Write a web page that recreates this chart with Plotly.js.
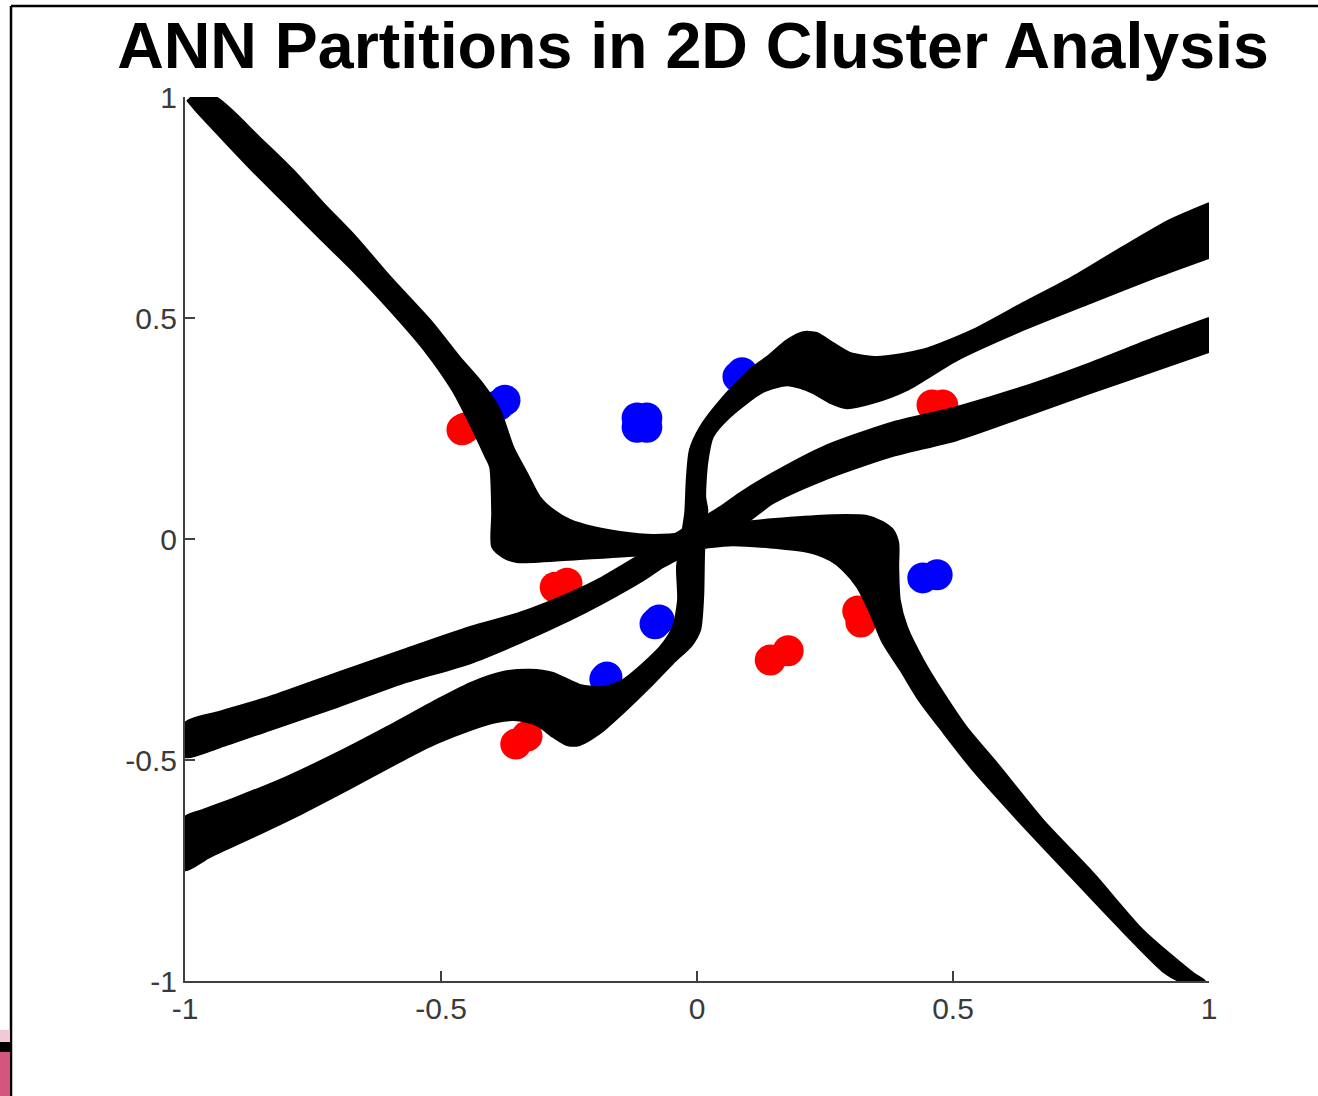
<!DOCTYPE html>
<html>
<head>
<meta charset="utf-8">
<script src="https://cdn.plot.ly/plotly-3.0.1.min.js"></script>
<style>
  html, body { margin: 0; padding: 0; background: #fff; }
  #chart { width: 1318px; height: 1096px; }
</style>
</head>
<body>
<div id="chart"></div>
<script>
// ---- data ----
const titleText = "ANN Partitions in 2D Cluster Analysis";
const tickVals = [-1, -0.5, 0, 0.5, 1];
const tickText = ["-1", "-0.5", "0", "0.5", "1"];

// Class 1 (red) cluster points
const redX = [-0.459, -0.453, 0.459, 0.480, -0.277, -0.254, -0.354, -0.332, 0.314, 0.320, 0.143, 0.178];
const redY = [0.247, 0.251, 0.303, 0.303, -0.109, -0.100, -0.464, -0.446, -0.163, -0.188, -0.274, -0.253];

// Class 2 (blue) cluster points
const blueX = [-0.387, -0.375, -0.117, -0.098, -0.117, -0.098, 0.080, 0.088, 0.441, 0.469, -0.082, -0.074, -0.180, -0.176];
const blueY = [0.303, 0.314, 0.274, 0.274, 0.253, 0.253, 0.367, 0.376, -0.088, -0.081, -0.192, -0.183, -0.317, -0.312];

// Partition band 1 (S-shaped, top-left to bottom-right) outline
const bandAX = [-0.990,-0.941,-0.853,-0.789,-0.730,-0.666,-0.599,-0.521,-0.464,-0.420,-0.385,-0.359,-0.332,-0.307,-0.281,-0.248,-0.203,-0.150,-0.086,-0.020,0.035,0.090,0.182,0.266,0.332,0.363,0.383,0.393,0.393,0.396,0.410,0.442,0.481,0.526,0.592,0.676,0.774,0.871,0.969,0.992,
  0.943,0.914,0.816,0.718,0.621,0.539,0.482,0.433,0.397,0.363,0.338,0.313,0.285,0.260,0.215,0.070,0.012,-0.053,-0.105,-0.229,-0.352,-0.379,-0.400,-0.400,-0.404,-0.413,-0.444,-0.478,-0.533,-0.600,-0.674,-0.739,-0.805,-0.864,-0.920,-0.975,-0.996];
const bandAY = [1.0,1.0,0.907,0.835,0.760,0.683,0.593,0.495,0.412,0.353,0.292,0.208,0.149,0.095,0.066,0.043,0.027,0.016,0.009,0.014,0.025,0.038,0.048,0.054,0.052,0.038,0.020,-0.009,-0.063,-0.138,-0.199,-0.274,-0.348,-0.425,-0.516,-0.636,-0.756,-0.885,-0.982,-1.0,
  -1.0,-0.982,-0.869,-0.749,-0.629,-0.523,-0.439,-0.364,-0.296,-0.235,-0.167,-0.109,-0.070,-0.048,-0.029,-0.014,-0.020,-0.029,-0.036,-0.045,-0.052,-0.041,-0.018,0.059,0.163,0.186,0.262,0.337,0.428,0.518,0.609,0.683,0.760,0.828,0.896,0.964,0.993];

// Partition band 2 (with bumps, lower-left to upper-right) outline
const bandBX = [1.0,0.924,0.832,0.734,0.637,0.539,0.441,0.352,0.299,0.266,0.234,0.207,0.176,0.137,0.109,0.051,0.006,-0.014,-0.020,-0.023,-0.031,-0.039,-0.037,-0.047,-0.072,-0.145,-0.184,-0.229,-0.281,-0.326,-0.379,-0.443,-0.508,-0.605,-0.703,-0.801,-0.898,-0.965,-1.0,
  -1.0,-0.951,-0.867,-0.770,-0.672,-0.574,-0.508,-0.443,-0.391,-0.352,-0.313,-0.281,-0.254,-0.229,-0.189,-0.145,-0.092,-0.047,-0.010,0.006,0.012,0.014,0.020,0.016,0.020,0.031,0.064,0.129,0.176,0.201,0.227,0.260,0.293,0.344,0.410,0.508,0.637,0.768,0.898,1.0];
const bandBY = [0.760,0.722,0.661,0.593,0.534,0.473,0.428,0.412,0.421,0.443,0.466,0.468,0.450,0.412,0.389,0.321,0.253,0.201,0.133,0.059,-0.002,-0.063,-0.138,-0.199,-0.244,-0.319,-0.335,-0.330,-0.303,-0.296,-0.301,-0.326,-0.364,-0.425,-0.484,-0.538,-0.584,-0.613,-0.629,
  -0.749,-0.719,-0.674,-0.620,-0.561,-0.500,-0.462,-0.432,-0.414,-0.410,-0.421,-0.448,-0.466,-0.466,-0.439,-0.394,-0.335,-0.281,-0.240,-0.206,-0.131,-0.025,0.066,0.095,0.172,0.231,0.276,0.333,0.348,0.342,0.330,0.308,0.296,0.308,0.337,0.405,0.473,0.534,0.593,0.636];

// Partition band 3 (thin, through the origin) outline
const bandCX = [1.0,0.898,0.768,0.637,0.508,0.377,0.246,0.148,0.084,0.045,-0.033,-0.111,-0.184,-0.248,-0.346,-0.443,-0.574,-0.703,-0.834,-0.932,-1.0,
  -1.0,-0.932,-0.834,-0.703,-0.574,-0.443,-0.346,-0.248,-0.184,-0.105,-0.066,0.016,0.098,0.148,0.246,0.377,0.508,0.637,0.768,0.898,1.0];
const bandCY = [0.500,0.457,0.398,0.344,0.299,0.262,0.208,0.149,0.104,0.072,0.018,-0.036,-0.086,-0.122,-0.167,-0.199,-0.251,-0.303,-0.357,-0.391,-0.416,
  -0.493,-0.471,-0.432,-0.380,-0.326,-0.281,-0.235,-0.183,-0.145,-0.093,-0.063,-0.014,0.038,0.081,0.133,0.186,0.224,0.276,0.330,0.382,0.423];

// ---- traces ----
function band(xs, ys) {
  return {
    type: 'scatter', mode: 'lines', x: xs, y: ys,
    fill: 'toself', fillcolor: '#000000',
    line: { color: '#000000', width: 2, shape: 'spline', smoothing: 0.7 },
    hoverinfo: 'skip', showlegend: false
  };
}
const traces = [
  { type: 'scatter', mode: 'markers', x: redX, y: redY,
    marker: { color: '#ff0000', size: 31, line: { width: 0 } }, showlegend: false },
  { type: 'scatter', mode: 'markers', x: blueX, y: blueY,
    marker: { color: '#0000ff', size: 31, line: { width: 0 } }, showlegend: false },
  band(bandAX, bandAY),
  band(bandBX, bandBY),
  band(bandCX, bandCY)
];

// ---- layout ----
const W = 1318, H = 1096;
const L = 185, R = 109, T = 97, B = 115;
const pw = W - L - R, ph = H - T - B;
function px(p) { return (p - L) / pw; }
function py(p) { return (H - B - p) / ph; }

const axisFont = { family: 'Liberation Sans, Arial, Helvetica, sans-serif', size: 30, color: '#3a3a3a' };
const layout = {
  width: W, height: H,
  margin: { l: L, r: R, t: T, b: B, pad: 0 },
  paper_bgcolor: '#ffffff', plot_bgcolor: '#ffffff',
  showlegend: false,
  title: {
    text: '<b>' + titleText + '</b>',
    font: { family: 'Liberation Sans, Arial, Helvetica, sans-serif', size: 64.5, color: '#000000' },
    x: 693 / W, xref: 'container', xanchor: 'center',
    y: 1 - 45 / H, yref: 'container', yanchor: 'middle'
  },
  xaxis: {
    range: [-1, 1], tickvals: tickVals, ticktext: tickText,
    showgrid: false, zeroline: false, showline: true, linecolor: '#404040', linewidth: 2,
    ticks: 'inside', ticklen: 10, tickwidth: 2, tickcolor: '#404040',
    tickfont: axisFont, fixedrange: true
  },
  yaxis: {
    range: [-1, 1], tickvals: tickVals, ticktext: tickText,
    showgrid: false, zeroline: false, showline: true, linecolor: '#404040', linewidth: 2,
    ticks: 'inside', ticklen: 10, tickwidth: 2, tickcolor: '#404040',
    tickfont: axisFont, fixedrange: true
  },
  shapes: [
    { type: 'line', xref: 'paper', yref: 'paper', x0: px(11), x1: px(W), y0: py(6), y1: py(6),
      line: { color: '#000', width: 2.5 } },
    { type: 'line', xref: 'paper', yref: 'paper', x0: px(11), x1: px(11), y0: py(6), y1: py(H),
      line: { color: '#000', width: 2.5 } },
    { type: 'rect', xref: 'paper', yref: 'paper', x0: px(0), x1: px(10), y0: py(1030), y1: py(1042),
      fillcolor: '#f3c9d6', line: { width: 0 } },
    { type: 'rect', xref: 'paper', yref: 'paper', x0: px(0), x1: px(10), y0: py(1042), y1: py(1052),
      fillcolor: '#000000', line: { width: 0 } },
    { type: 'rect', xref: 'paper', yref: 'paper', x0: px(0), x1: px(10), y0: py(1052), y1: py(H),
      fillcolor: '#d4557e', line: { width: 0 } }
  ]
};

Plotly.newPlot('chart', traces, layout, { staticPlot: true, displayModeBar: false });
</script>
</body>
</html>
